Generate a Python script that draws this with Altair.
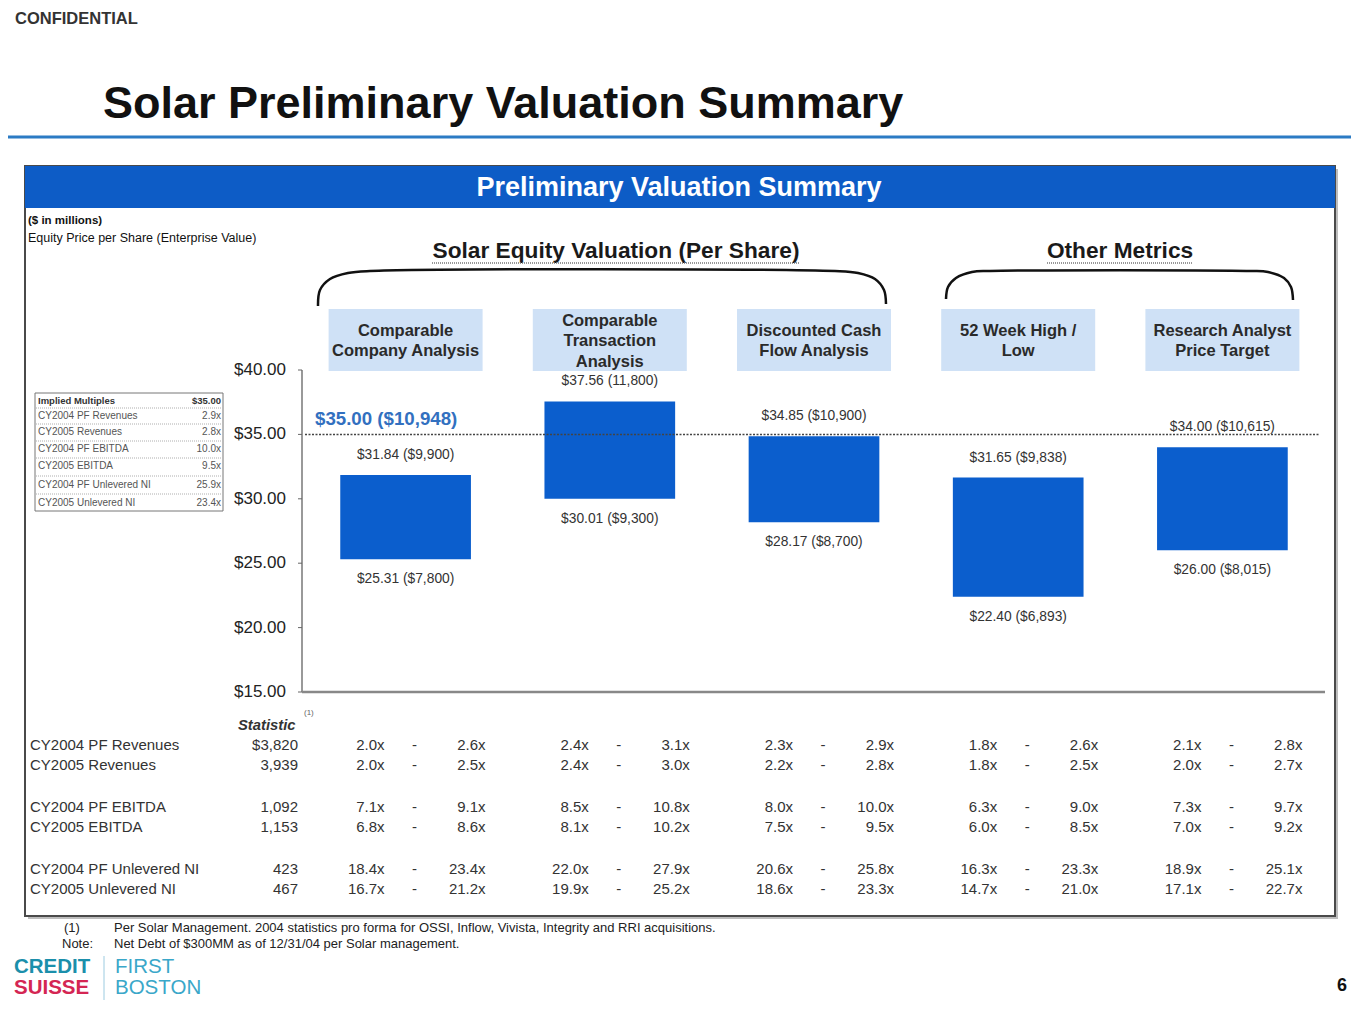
import altair as alt
import pandas as pd

OX, OY = 8, 8
FONT = "Liberation Sans"

# ---------------- data ----------------
categories = ["Comparable Company Analysis", "Comparable Transaction Analysis",
              "Discounted Cash Flow Analysis", "52 Week High / Low",
              "Research Analyst Price Target"]
header_text = ["Comparable\nCompany Analysis", "Comparable\nTransaction\nAnalysis",
               "Discounted Cash\nFlow Analysis", "52 Week High /\nLow",
               "Research Analyst\nPrice Target"]
low_price = [25.31, 30.01, 28.17, 22.40, 26.00]
high_price = [31.84, 37.56, 34.85, 31.65, 34.00]
low_ev = ["($7,800)", "($9,300)", "($8,700)", "($6,893)", "($8,015)"]
high_ev = ["($9,900)", "(11,800)", "($10,900)", "($9,838)", "($10,615)"]
current_price = 35.00
current_ev = "($10,948)"
y_ticks = [15, 20, 25, 30, 35, 40]

metrics = ["CY2004 PF Revenues", "CY2005 Revenues", "CY2004 PF EBITDA",
           "CY2005 EBITDA", "CY2004 PF Unlevered NI", "CY2005 Unlevered NI"]
statistic = ["$3,820", "3,939", "1,092", "1,153", "423", "467"]
mult_low = [
    ["2.0x", "2.0x", "7.1x", "6.8x", "18.4x", "16.7x"],
    ["2.4x", "2.4x", "8.5x", "8.1x", "22.0x", "19.9x"],
    ["2.3x", "2.2x", "8.0x", "7.5x", "20.6x", "18.6x"],
    ["1.8x", "1.8x", "6.3x", "6.0x", "16.3x", "14.7x"],
    ["2.1x", "2.0x", "7.3x", "7.0x", "18.9x", "17.1x"],
]
mult_high = [
    ["2.6x", "2.5x", "9.1x", "8.6x", "23.4x", "21.2x"],
    ["3.1x", "3.0x", "10.8x", "10.2x", "27.9x", "25.2x"],
    ["2.9x", "2.8x", "10.0x", "9.5x", "25.8x", "23.3x"],
    ["2.6x", "2.5x", "9.0x", "8.5x", "23.3x", "21.0x"],
    ["2.8x", "2.7x", "9.7x", "9.2x", "25.1x", "22.7x"],
]
inset_values = ["2.9x", "2.8x", "10.0x", "9.5x", "25.9x", "23.4x"]

# ---------------- scales ----------------
xscale = alt.Scale(domain=categories, range=[303.5 - OX, 1324.5 - OX],
                   paddingInner=0.36, paddingOuter=0.18)
yscale = alt.Scale(domain=[15, 40], range=[692 - OY, 370 - OY], zero=False, nice=False)

BLUE = "#0b5ecd"
LIGHT = "#cfe1f6"
DARK = "#2a2a2a"


def T(s, x, y, size, weight="normal", color=DARK, align="left", style="normal",
      font=FONT, baseline="middle", **kw):
    return alt.Chart(pd.DataFrame({"t": [s]})).mark_text(
        align=align, baseline=baseline, fontSize=size, fontWeight=weight,
        color=color, font=font, fontStyle=style, **kw
    ).encode(x=alt.value(x - OX), y=alt.value(y - OY), text="t:N")


def R(x1, y1, x2, y2, fill="transparent", stroke="transparent", sw=0):
    return alt.Chart(pd.DataFrame({"a": [0]})).mark_rect(
        fill=fill, stroke=stroke, strokeWidth=sw
    ).encode(x=alt.value(x1 - OX), x2=alt.value(x2 - OX),
             y=alt.value(y1 - OY), y2=alt.value(y2 - OY))


def L(x1, y1, x2, y2, color="#555", width=1, dash=None):
    kw = dict(color=color, strokeWidth=width)
    if dash:
        kw["strokeDash"] = dash
    return alt.Chart(pd.DataFrame({"a": [0]})).mark_rule(**kw).encode(
        x=alt.value(x1 - OX), x2=alt.value(x2 - OX),
        y=alt.value(y1 - OY), y2=alt.value(y2 - OY))


def brace(pts):
    df = pd.DataFrame({"px": [p[0] - OX for p in pts], "py": [p[1] - OY for p in pts],
                       "o": list(range(len(pts)))})
    return alt.Chart(df).mark_line(color="#111", strokeWidth=2.5,
                                   interpolate="catmull-rom").encode(
        x=alt.X("px:Q", scale=None), y=alt.Y("py:Q", scale=None), order="o:Q")


layers = []

# page header
layers.append(T("CONFIDENTIAL", 15, 19, 16.5, weight="bold", color="#333"))
layers.append(T("Solar Preliminary Valuation Summary", 103, 104, 45, weight="bold", color="#111"))
layers.append(L(8, 137, 1359, 137, color="#2b7bc4", width=3))

# frame (with light shadow) and banner
layers.append(R(28, 169, 1338, 919, fill="#bdbdbd"))
layers.append(R(25, 166, 1335, 916, fill="white", stroke="#4a4a4a", sw=2))
layers.append(R(25, 166, 1335, 208, fill="#0d5cc6"))
layers.append(T("Preliminary Valuation Summary", 679, 188, 27, weight="bold",
                color="white", align="center"))

layers.append(T("($ in millions)", 28, 221, 11.5, weight="bold", color="#111"))
layers.append(T("Equity Price per Share (Enterprise Value)", 28, 238, 12.5, color="#111"))

# section titles and braces
layers.append(T("Solar Equity Valuation (Per Share)", 616, 251, 22.7, weight="bold",
                color="#1a1a1a", align="center"))
layers.append(L(432, 263, 800, 263, color="#777", width=1.5, dash=[1, 1]))
layers.append(T("Other Metrics", 1120, 251, 22.7, weight="bold", color="#1a1a1a", align="center"))
layers.append(L(1047, 263, 1193, 263, color="#777", width=1.5, dash=[1, 1]))
layers.append(brace([(318, 306), (320, 290), (330, 279), (348, 273), (370, 271),
                     (835, 271), (858, 273), (875, 279), (884, 290), (886, 304)]))
layers.append(brace([(946, 299), (948, 287), (956, 278), (972, 272), (990, 271),
                     (1250, 271), (1268, 272), (1284, 278), (1291, 287), (1293, 300)]))

# header boxes
LH = 20.5
hdr = pd.DataFrame({"cat": categories, "h": header_text,
                    "py": [341 - OY - (h.count("\n")) * LH / 2 for h in header_text]})
xenc = alt.X("cat:N", scale=xscale, axis=None, sort=categories)
layers.append(alt.Chart(hdr).mark_bar(color=LIGHT, width=154).encode(
    x=xenc, y=alt.value(309 - OY), y2=alt.value(371 - OY)))
layers.append(alt.Chart(hdr).mark_text(
    fontSize=16.5, fontWeight="bold", font=FONT, color="#2a2a2a", lineBreak="\n",
    baseline="middle", align="center", lineHeight=LH).encode(
    x=xenc, y=alt.Y("py:Q", scale=None), text="h:N"))

# bars
bars = pd.DataFrame({
    "cat": categories, "low": low_price, "high": high_price,
    "low_lbl": [f"${p:.2f} {e}" for p, e in zip(low_price, low_ev)],
    "high_lbl": [f"${p:.2f} {e}" for p, e in zip(high_price, high_ev)],
})
layers.append(alt.Chart(bars).mark_bar(color=BLUE).encode(
    x=xenc, y=alt.Y("low:Q", scale=yscale, axis=None), y2="high:Q"))
layers.append(alt.Chart(bars).mark_text(fontSize=13.8, font=FONT, color="#333", dy=-20).encode(
    x=xenc, y=alt.Y("high:Q", scale=yscale, axis=None), text="high_lbl:N"))
layers.append(alt.Chart(bars).mark_text(fontSize=13.8, font=FONT, color="#333", dy=20).encode(
    x=xenc, y=alt.Y("low:Q", scale=yscale, axis=None), text="low_lbl:N"))

# y axis (drawn from the y scale)
ticks = pd.DataFrame({"v": y_ticks})
layers.append(alt.Chart(pd.DataFrame({"lo": [min(y_ticks)], "hi": [max(y_ticks)]})).mark_rule(
    color="#777", strokeWidth=1.5).encode(
    x=alt.value(302 - OX), y=alt.Y("lo:Q", scale=yscale, axis=None), y2="hi:Q"))
layers.append(alt.Chart(ticks).mark_rule(color="#666", strokeWidth=1).encode(
    x=alt.value(298 - OX), x2=alt.value(302 - OX), y=alt.Y("v:Q", scale=yscale, axis=None)))
layers.append(alt.Chart(ticks).mark_text(fontSize=17, font=FONT, color="#222", align="right").encode(
    x=alt.value(286 - OX), y=alt.Y("v:Q", scale=yscale, axis=None),
    text=alt.Text("v:Q", format="$.2f")))

# reference lines
layers.append(alt.Chart(pd.DataFrame({"a": [0]})).mark_rule(color="#888", strokeWidth=2.5).encode(
    y=alt.YDatum(15, scale=yscale, axis=None), x=alt.value(302 - OX), x2=alt.value(1325 - OX)))
layers.append(alt.Chart(pd.DataFrame({"a": [0]})).mark_rule(
    color="#444", strokeWidth=1.5, strokeDash=[2, 1.5]).encode(
    y=alt.YDatum(current_price, scale=yscale, axis=None),
    x=alt.value(305 - OX), x2=alt.value(1320 - OX)))
cur = pd.DataFrame({"p": [current_price], "t": [f"${current_price:.2f} {current_ev}"]})
layers.append(alt.Chart(cur).mark_text(fontSize=18.7, fontWeight="bold", font=FONT,
                                       color="#3270c0", align="left", dy=-15).encode(
    x=alt.value(315 - OX), y=alt.Y("p:Q", scale=yscale, axis=None), text="t:N"))

# inset implied multiples table
layers.append(R(35, 393, 223, 511, fill="white", stroke="#777", sw=1))
inset_y = [416, 432, 449, 466, 485, 503]
layers.append(T("Implied Multiples", 38, 401, 9.5, weight="bold", color="#333"))
layers.append(T(f"${current_price:.2f}", 221, 401, 9.5, weight="bold", color="#333", align="right"))
for yy in [408, 424, 441, 458, 476, 494]:
    layers.append(L(36, yy, 222, yy, color="#999", width=0.8, dash=[1, 1]))
ins = pd.DataFrame({"m": metrics, "v": inset_values, "py": [y - OY for y in inset_y]})
layers.append(alt.Chart(ins).mark_text(fontSize=10, font=FONT, color="#555", align="left").encode(
    x=alt.value(38 - OX), y=alt.Y("py:Q", scale=None), text="m:N"))
layers.append(alt.Chart(ins).mark_text(fontSize=10, font=FONT, color="#555", align="right").encode(
    x=alt.value(221 - OX), y=alt.Y("py:Q", scale=None), text="v:N"))

# bottom multiples table
row_y = [745 - OY + (i // 2) * 62 + (i % 2) * 20 for i in range(len(metrics))]
mt = pd.DataFrame({"m": metrics, "s": statistic, "py": row_y})
layers.append(T("Statistic", 238, 726, 14.8, weight="bold", style="italic", color="#333"))
layers.append(T("(1)", 304, 713, 8, color="#666"))
layers.append(alt.Chart(mt).mark_text(fontSize=15, font=FONT, color="#333", align="left").encode(
    x=alt.value(30 - OX), y=alt.Y("py:Q", scale=None), text="m:N"))
layers.append(alt.Chart(mt).mark_text(fontSize=15, font=FONT, color="#333", align="right").encode(
    x=alt.value(298 - OX), y=alt.Y("py:Q", scale=None), text="s:N"))

rows = []
for ci, cat in enumerate(categories):
    for ri in range(len(metrics)):
        rows.append({"cat": cat, "lo": mult_low[ci][ri], "hi": mult_high[ci][ri], "py": row_y[ri]})
tbl = pd.DataFrame(rows)
tb = alt.Chart(tbl).encode(x=xenc, y=alt.Y("py:Q", scale=None))
layers.append(tb.mark_text(fontSize=15, font=FONT, color="#333", align="right", dx=-21).encode(text="lo:N"))
layers.append(tb.mark_text(fontSize=15, font=FONT, color="#333", align="center", dx=9).encode(text=alt.value("-")))
layers.append(tb.mark_text(fontSize=15, font=FONT, color="#333", align="right", dx=80).encode(text="hi:N"))

# footnotes
layers.append(T("(1)", 64, 928, 13, color="#222"))
layers.append(T("Per Solar Management.  2004 statistics pro forma for OSSI, Inflow, Vivista, Integrity and RRI acquisitions.",
                114, 928, 13, color="#222"))
layers.append(T("Note:", 62, 944, 13, color="#222"))
layers.append(T("Net Debt of $300MM as of 12/31/04 per Solar management.", 114, 944, 13, color="#222"))

# logo and page number
layers.append(T("CREDIT", 14, 967, 20.5, weight="bold", color="#1b8fab"))
layers.append(T("SUISSE", 14, 988, 20.5, weight="bold", color="#d42653"))
layers.append(L(104, 956, 104, 1000, color="#9ccbe0", width=1))
layers.append(T("FIRST", 115, 967, 20.5, color="#3aa7c9"))
layers.append(T("BOSTON", 115, 988, 20.5, color="#3aa7c9"))
layers.append(T("6", 1342, 986, 18, weight="bold", color="#111", align="center"))

chart = alt.layer(*layers).resolve_scale(x="independent", y="independent").properties(
    width=1343, height=1004, autosize=alt.AutoSizeParams(type="none"), padding=0,
    background="white"
).configure_view(stroke=None)

chart.save("out.html", embed_options={"renderer": "svg", "actions": False})
